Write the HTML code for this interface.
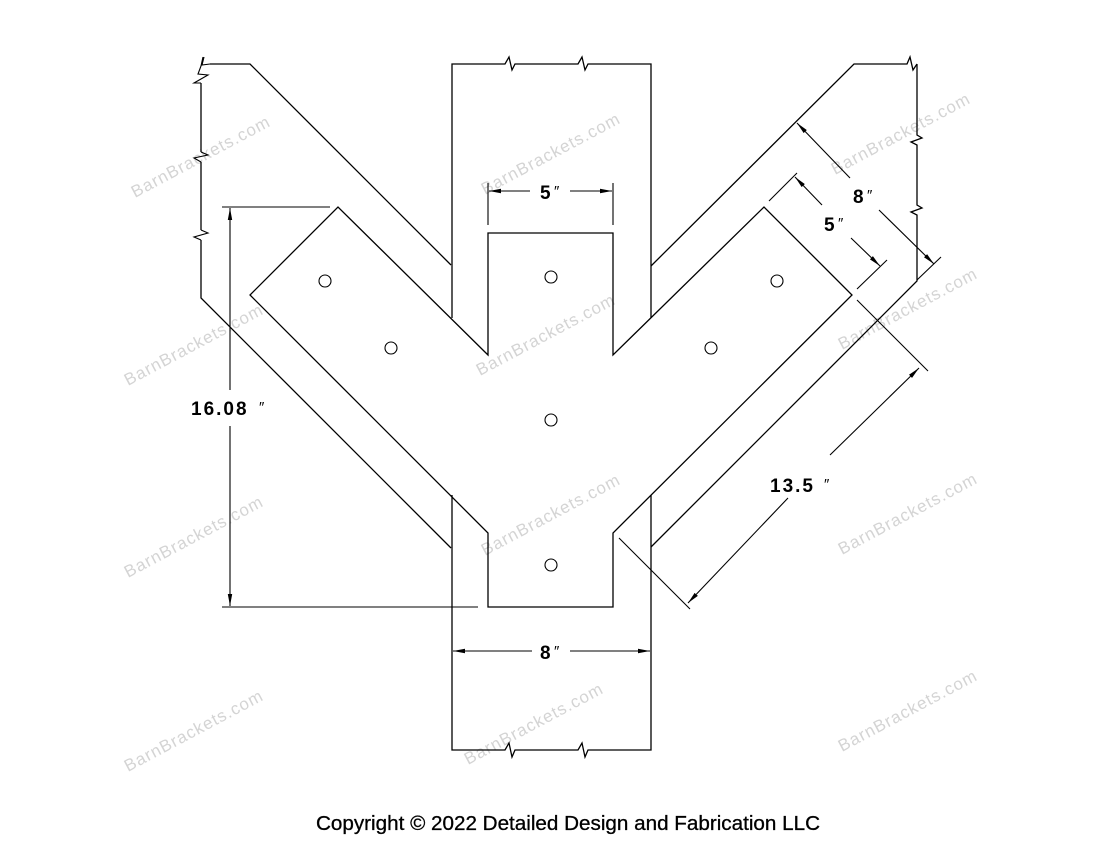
<!DOCTYPE html>
<html><head><meta charset="utf-8"><style>
html,body{margin:0;padding:0;background:#fff}
svg{display:block}
.l{stroke:#000;stroke-width:1.3;fill:none}
.t{stroke:#000;stroke-width:1.1;fill:none}
.d{font-family:"Liberation Sans",sans-serif;font-weight:bold;font-size:19px;fill:#000}
.i{font-family:"Liberation Sans",sans-serif;font-size:15px;fill:#000}
.w{font-family:"Liberation Sans",sans-serif;font-size:17px;fill:#d4d4d4;letter-spacing:1px}
</style></head><body>
<svg width="1100" height="850" viewBox="0 0 1100 850" xmlns="http://www.w3.org/2000/svg">
<defs>
<marker id="a" viewBox="0 0 12 5" refX="12" refY="2.5" markerWidth="12" markerHeight="5" markerUnits="userSpaceOnUse" orient="auto-start-reverse"><path d="M0,0.3 L12,2.5 L0,4.7 z" fill="#000"/></marker>
</defs>
<g class="w">
<text transform="translate(135,198) rotate(-28)">BarnBrackets.com</text>
<text transform="translate(485,195) rotate(-28)">BarnBrackets.com</text>
<text transform="translate(835,175) rotate(-28)">BarnBrackets.com</text>
<text transform="translate(128,386) rotate(-28)">BarnBrackets.com</text>
<text transform="translate(480,376) rotate(-28)">BarnBrackets.com</text>
<text transform="translate(842,350) rotate(-28)">BarnBrackets.com</text>
<text transform="translate(128,578) rotate(-28)">BarnBrackets.com</text>
<text transform="translate(485,556) rotate(-28)">BarnBrackets.com</text>
<text transform="translate(842,555) rotate(-28)">BarnBrackets.com</text>
<text transform="translate(128,772) rotate(-28)">BarnBrackets.com</text>
<text transform="translate(468,765) rotate(-28)">BarnBrackets.com</text>
<text transform="translate(842,752) rotate(-28)">BarnBrackets.com</text>
</g>
<polyline class="l" points="210,64 250,64 451,265"/>
<polyline class="l" points="201,83 201,152"/>
<polyline class="l" points="201,162 201,230"/>
<polyline class="l" points="201,240 201,298 451,548"/>
<polyline class="t" points="204,57 202,65 210,64"/>
<polyline class="t" points="203,57 201,66 198,74 208,75 194,83 201,83"/>
<polyline class="t" points="201,152 208,155 194,158 201,162"/>
<polyline class="t" points="201,230 208,233 194,237 201,240"/>
<polyline class="l" points="452,318 452,64 505,64 509,57 512,70 515,64 578,64 582,57 585,70 588,64 651,64 651,318"/>
<polyline class="l" points="452,495 452,750 505,750 509,743 512,757 515,750 578,750 582,743 585,757 588,750 651,750 651,495"/>
<polyline class="l" points="651,266 854,64 907,64 910,57 913,70 917,64"/>
<polyline class="l" points="917,64 917,135 922,138 911,142 917,145 917,205 922,208 911,212 917,215 917,281 651,547"/>
<polygon class="l" points="488,355 338,207 250,295 488,533 488,607 613,607 613,533 852,295 764,207 613,355 613,233 488,233"/>
<g class="t">
<circle cx="325" cy="281" r="6"/><circle cx="391" cy="348" r="6"/>
<circle cx="551" cy="277" r="6"/><circle cx="551" cy="420" r="6"/><circle cx="551" cy="565" r="6"/>
<circle cx="711" cy="348" r="6"/><circle cx="777" cy="281" r="6"/>
</g>
<line class="t" x1="488" y1="183" x2="488" y2="225"/>
<line class="t" x1="613" y1="183" x2="613" y2="225"/>
<line class="t" x1="530" y1="191" x2="489" y2="191" marker-end="url(#a)"/>
<line class="t" x1="570" y1="191" x2="612" y2="191" marker-end="url(#a)"/>
<text class="d" x="540" y="199">5</text><text class="i" x="554" y="196">″</text>
<line class="t" x1="532" y1="651" x2="453" y2="651" marker-end="url(#a)"/>
<line class="t" x1="570" y1="651" x2="650" y2="651" marker-end="url(#a)"/>
<text class="d" x="540" y="659">8</text><text class="i" x="554" y="656">″</text>
<line class="t" x1="222" y1="207" x2="330" y2="207"/>
<line class="t" x1="222" y1="607" x2="478" y2="607"/>
<line class="t" x1="230" y1="390" x2="230" y2="208" marker-end="url(#a)"/>
<line class="t" x1="230" y1="426" x2="230" y2="606" marker-end="url(#a)"/>
<text class="d" x="191" y="415" letter-spacing="2">16.08</text><text class="i" x="259" y="412">″</text>
<line class="t" x1="619" y1="538" x2="690" y2="609"/>
<line class="t" x1="857" y1="300" x2="928" y2="371"/>
<line class="t" x1="788" y1="498" x2="688" y2="603" marker-end="url(#a)"/>
<line class="t" x1="830" y1="455" x2="919" y2="368" marker-end="url(#a)"/>
<text class="d" x="770" y="492" letter-spacing="2">13.5</text><text class="i" x="824" y="489">″</text>
<line class="t" x1="769" y1="201" x2="797" y2="173"/>
<line class="t" x1="857" y1="289" x2="887" y2="260"/>
<line class="t" x1="822" y1="205" x2="795" y2="177" marker-end="url(#a)"/>
<line class="t" x1="851" y1="238" x2="880" y2="266" marker-end="url(#a)"/>
<text class="d" x="824" y="231">5</text><text class="i" x="838" y="228">″</text>
<line class="t" x1="917" y1="280" x2="941" y2="257"/>
<line class="t" x1="850" y1="178" x2="797" y2="123" marker-end="url(#a)"/>
<line class="t" x1="879" y1="210" x2="934" y2="264" marker-end="url(#a)"/>
<text class="d" x="853" y="203">8</text><text class="i" x="867" y="200">″</text>
<text x="316" y="830" textLength="504" lengthAdjust="spacingAndGlyphs" style="font-family:'Liberation Sans',sans-serif;font-size:20px;fill:#000;stroke:#000;stroke-width:0.3">Copyright © 2022 Detailed Design and Fabrication LLC</text>
</svg>
</body></html>
